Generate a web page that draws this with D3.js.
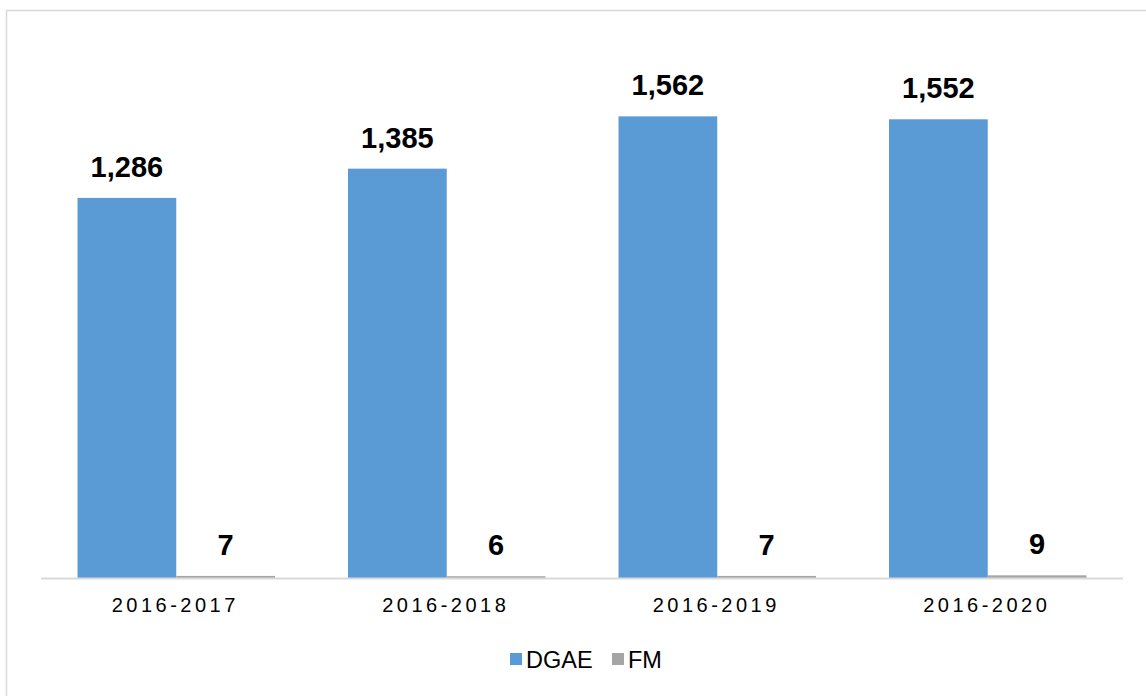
<!DOCTYPE html>
<html>
<head>
<meta charset="utf-8">
<script src="https://cdn.jsdelivr.net/npm/d3@7"></script>
<style>
  body { margin: 0; background: #fff; }
  svg { display: block; font-family: "Liberation Sans", Arial, sans-serif; }
</style>
</head>
<body>
<div id="chart"></div>
<script>
// data
var periods = ['2016-2017', '2016-2018', '2016-2019', '2016-2020'];
var seriesNames = ['DGAE', 'FM'];
var dgae = [1286, 1385, 1562, 1552];
var fm = [7, 6, 7, 9];
var seriesColors = ['#5b9bd5', '#a5a5a5'];

var width = 1146, height = 696;
var svg = d3.select('#chart').append('svg')
    .attr('width', width)
    .attr('height', height);

// frame (top and left edges visible)
svg.append('path')
    .attr('d', 'M6.5,' + height + 'V10.5H' + width)
    .attr('fill', 'none')
    .attr('stroke', '#d9d9d9')
    .attr('stroke-width', 1.5);

var left = 41, right = 1123, baseline = 578;

var x0 = d3.scaleBand()
    .domain(periods)
    .range([left, right])
    .paddingInner(0.27)
    .paddingOuter(0.135);

var x1 = d3.scaleBand()
    .domain(seriesNames)
    .range([0, x0.bandwidth()]);

var y = d3.scaleLinear()
    .domain([0, 1800])
    .range([baseline, baseline - 532]);

var rows = periods.map(function(p, i){
    return {period: p, values: [dgae[i], fm[i]]};
});

var groups = svg.selectAll('.grp')
    .data(rows)
    .enter().append('g')
    .attr('class', 'grp')
    .attr('transform', function(d){ return 'translate(' + x0(d.period) + ',0)'; });

var bars = groups.selectAll('g.bar')
    .data(function(d){ return d.values.map(function(v, j){ return {name: seriesNames[j], value: v, j: j}; }); })
    .enter().append('g')
    .attr('class', 'bar');

bars.append('rect')
    .attr('x', function(d){ return x1(d.name); })
    .attr('width', x1.bandwidth())
    .attr('y', function(d){ return y(d.value); })
    .attr('height', function(d){ return baseline - y(d.value); })
    .attr('fill', function(d){ return seriesColors[d.j]; });

bars.append('text')
    .attr('x', function(d){ return x1(d.name) + x1.bandwidth() / 2; })
    .attr('y', function(d){ return y(d.value) - 21; })
    .attr('text-anchor', 'middle')
    .attr('font-size', 29)
    .attr('font-weight', 'bold')
    .attr('fill', '#000')
    .text(function(d){ return d3.format(',')(d.value); });

// x axis
var xAxis = svg.append('g')
    .attr('transform', 'translate(0,' + baseline + ')')
    .call(d3.axisBottom(x0).tickSize(0).tickPadding(0));
xAxis.select('.domain')
    .attr('d', 'M' + left + ',0.5H' + right)
    .attr('stroke', '#d9d9d9')
    .attr('stroke-width', 2);
xAxis.selectAll('text')
    .attr('y', 34)
    .attr('dy', 0)
    .attr('dx', '-1px')
    .attr('font-size', 20)
    .attr('font-family', '"Liberation Sans", Arial, sans-serif')
    .attr('letter-spacing', '3.5px')
    .attr('fill', '#000');

// legend
var legendPos = [510, 612];
var legend = svg.selectAll('.legend')
    .data(seriesNames)
    .enter().append('g')
    .attr('class', 'legend')
    .attr('transform', function(d, i){ return 'translate(' + legendPos[i] + ',653)'; });
legend.append('rect')
    .attr('width', 12)
    .attr('height', 12)
    .attr('fill', function(d, i){ return seriesColors[i]; });
legend.append('text')
    .attr('x', 16)
    .attr('y', 14.5)
    .attr('font-size', 23.5)
    .attr('fill', '#000')
    .text(function(d){ return d; });
</script>
</body>
</html>
